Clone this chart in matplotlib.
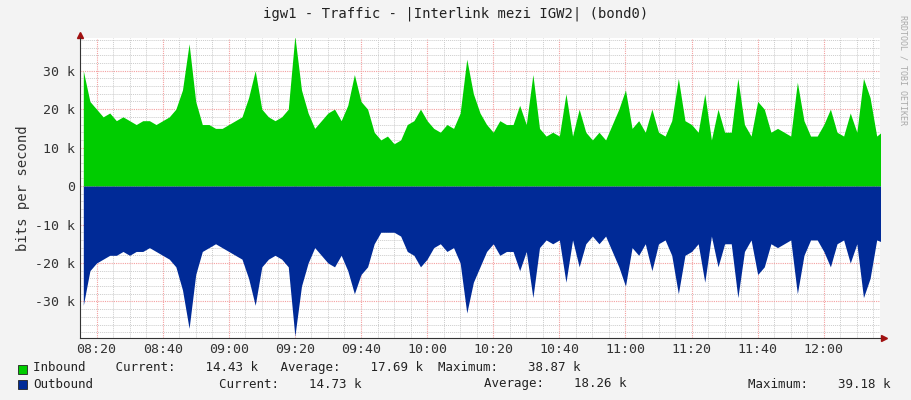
import matplotlib
matplotlib.use("Agg")
import matplotlib.pyplot as plt
import matplotlib.dates as mdates
import numpy as np
import datetime as dt

start = "08:16"
step_min = 2
inbound_k = [30, 22,
             20, 18, 19, 17, 18, 17, 16, 17, 17, 16,
             17, 18, 20, 25, 37, 22, 16, 16, 15, 15,
             16, 17, 18, 23, 30, 20, 18, 17, 18, 20,
             39, 25, 19, 15, 17, 19, 20, 17, 21, 29,
             22, 20, 14, 12, 13, 11, 12, 16, 17, 20,
             17, 15, 14, 16, 15, 19, 33, 24, 19, 16,
             14, 17, 16, 16, 21, 16, 29, 15, 13, 14,
             13, 24, 13, 20, 14, 12, 14, 12, 16, 20,
             25, 15, 17, 14, 20, 14, 13, 17, 28, 17,
             16, 14, 24, 12, 20, 14, 14, 28, 16, 13,
             22, 20, 14, 15, 14, 13, 27, 17, 13, 13,
             16, 20, 14, 13, 19, 14, 28, 23, 13, 14.4]
outbound_k = [31, 22,
              20, 19, 18, 18, 17, 18, 17, 17, 16, 17,
              18, 19, 21, 27, 37, 23, 17, 16, 15, 16,
              17, 18, 19, 24, 31, 21, 19, 18, 19, 21,
              39, 26, 20, 16, 18, 20, 21, 18, 22, 28,
              23, 21, 15, 12, 12, 12, 13, 17, 18, 21,
              19, 16, 15, 17, 16, 20, 33, 25, 21, 17,
              15, 18, 17, 17, 22, 17, 29, 16, 14, 15,
              14, 25, 14, 21, 15, 13, 15, 13, 17, 21,
              26, 16, 18, 15, 22, 15, 14, 18, 28, 18,
              17, 15, 25, 13, 21, 15, 15, 29, 17, 14,
              23, 21, 15, 16, 15, 14, 28, 18, 14, 14,
              17, 21, 15, 14, 20, 15, 29, 24, 14, 14.7]

t0 = dt.datetime(2024, 1, 1, *map(int, start.split(":")))
times = [t0 + dt.timedelta(minutes=step_min * i) for i in range(len(inbound_k))]
inb = np.array(inbound_k) * 1000
outb = -np.array(outbound_k) * 1000

fig = plt.figure(figsize=(9.11, 4.0), dpi=100, facecolor="#F3F3F3")
ax = fig.add_axes([80/911, 1-338/400, 800/911, 300/400], facecolor="white")
ax.fill_between(times, inb, 0, color="#00CC00", lw=0, zorder=3)
ax.fill_between(times, outb, 0, color="#002A97", lw=0, zorder=3)

xmin = dt.datetime(2024, 1, 1, 8, 15, 0)
xmax = dt.datetime(2024, 1, 1, 12, 17, 0)
ax.set_xlim(xmin, xmax)
ax.set_ylim(-39500, 38500)

ax.xaxis.set_major_locator(mdates.MinuteLocator(byminute=[0, 20, 40]))
ax.xaxis.set_minor_locator(mdates.MinuteLocator(byminute=range(0, 60, 5)))
ax.xaxis.set_major_formatter(mdates.DateFormatter("%H:%M"))
ax.set_yticks([-30000, -20000, -10000, 0, 10000, 20000, 30000])
ax.set_yticklabels(["-30 k", "-20 k", "-10 k", "0", "10 k", "20 k", "30 k"])
ax.set_yticks(np.arange(-38000, 38001, 2000), minor=True)
ax.grid(which="minor", color="#CCCCCC", ls=(0, (1, 1)), lw=0.7, zorder=1)
ax.grid(which="major", color="#F4A0A0", ls=(0, (1, 1)), lw=0.8, zorder=1)
ax.set_axisbelow(True)
for s in ["top", "right"]:
    ax.spines[s].set_visible(False)
for s in ["left", "bottom"]:
    ax.spines[s].set_color("#333333")
    ax.spines[s].set_zorder(5)
ax.tick_params(which="both", length=0, labelsize=9.5, colors="#333333")
for lab in ax.get_xticklabels() + ax.get_yticklabels():
    lab.set_family("DejaVu Sans Mono")
ax.set_ylabel("bits per second", fontsize=10, family="DejaVu Sans Mono", color="#333333")
ax.plot(1.005, 0, ">", transform=ax.transAxes, color="#A01010", ms=4, clip_on=False)
ax.plot(0, 1.01, "^", transform=ax.transAxes, color="#A01010", ms=4, clip_on=False)

fig.text(0.5, 1-14/400, "igw1 - Traffic - |Interlink mezi IGW2| (bond0)", ha="center", va="center",
         fontsize=10, family="DejaVu Sans Mono", color="#222222")
fig.text(903/911, 1-70/400, "RRDTOOL / TOBI OETIKER", rotation=270, ha="center", va="center",
         fontsize=6, family="DejaVu Sans Mono", color="#AAAAAA")

mono = dict(fontsize=9, family="DejaVu Sans Mono", color="#222222", va="center")
fig.patches.append(plt.Rectangle((18/911, 1-374/400), 9/911, 9/400, transform=fig.transFigure,
                                 facecolor="#00CC00", edgecolor="#222222", lw=0.6))
fig.patches.append(plt.Rectangle((18/911, 1-389/400), 9/911, 9/400, transform=fig.transFigure,
                                 facecolor="#002A97", edgecolor="#222222", lw=0.6))
fig.text(33/911, 1-368/400, "Inbound    Current:    14.43 k   Average:    17.69 k  Maximum:    38.87 k", **mono)
fig.text(33/911, 1-384/400, "Outbound", **mono)
fig.text(219/911, 1-384/400, "Current:    14.73 k", **mono)
fig.text(484/911, 1-384/400, "Average:    18.26 k", **mono)
fig.text(748/911, 1-384/400, "Maximum:    39.18 k", **mono)

fig.savefig("out.png", dpi=100, facecolor=fig.get_facecolor())
